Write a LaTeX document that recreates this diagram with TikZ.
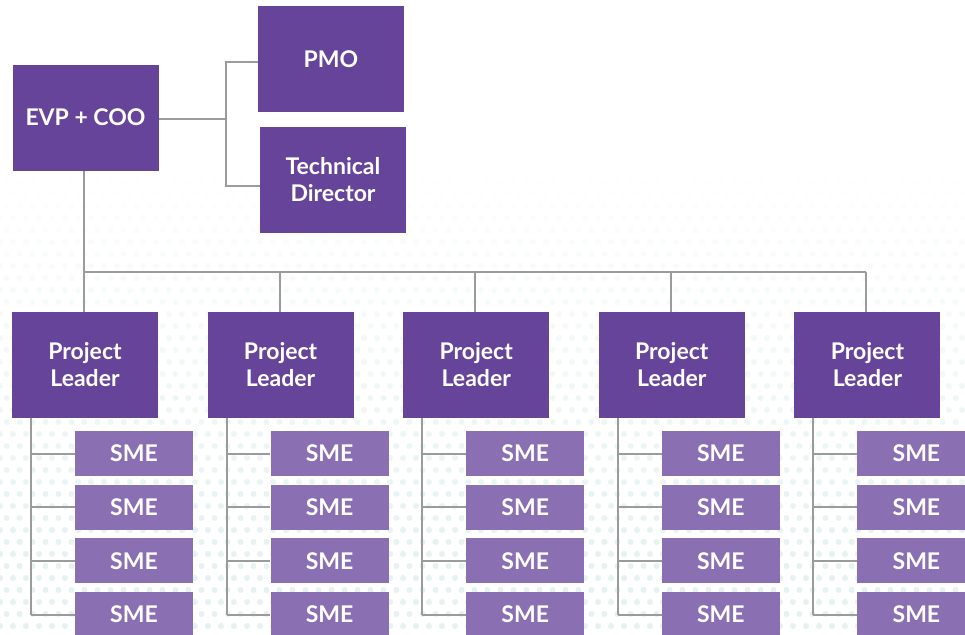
\documentclass[tikz,border=0pt]{standalone}
\usepackage{fontspec}
\setmainfont{Lato}
\usetikzlibrary{positioning}
\definecolor{plum}{HTML}{66449A}
\definecolor{lilac}{HTML}{8A70B3}
\definecolor{wiregray}{HTML}{9B9B9B}
\definecolor{dotteal}{HTML}{DCEFED}
\tikzset{
  box/.style={fill=plum, text=white, font=\fontsize{23}{27}\selectfont\bfseries,
    align=center, minimum width=146pt, minimum height=106pt, inner sep=0pt},
  smebox/.style={box, fill=lilac, minimum width=118pt, minimum height=45pt},
  wire/.style={draw=wiregray, line width=2pt}
}

\begin{document}
\begin{tikzpicture}[x=1pt, y=-1pt]
  %%%%% START %%%%%
  \useasboundingbox (0,0) rectangle (965,634);
  \fill[white] (0,0) rectangle (965,634);

  % dotted backdrop, fading out towards the top
  \foreach \r in {0,...,38}{
    \pgfmathsetmacro\dy{170+12*\r}
    \pgfmathsetmacro\op{0.75*min(1,\r/32)}
    \pgfmathsetmacro\ox{mod(\r,2)*6.5}
    \foreach \c in {0,...,74}{
      \fill[dotteal, opacity=\op] (\ox+13*\c, \dy) circle (3);
    }
  }

  % top of the chart
  \node[box] (evp) at (85.5,117.5) {EVP + COO};
  \node[box] (pmo) at (331,59) {PMO};
  \node[box] (tech) at (333,180) {Technical\\Director};

  \coordinate (split) at (226,119);
  \draw[wire] (evp.east |- split) -- (split);
  \draw[wire] ([yshift=-3pt]pmo.west) -| (split) |- ([yshift=-6pt]tech.west);

  \coordinate (bus) at (84,272);

  % project leaders and their SMEs
  \foreach \i in {1,...,5}{
    \pgfmathsetmacro\cx{85+195.6*(\i-1)}
    \node[box] (pl\i) at (\cx,365) {Project\\Leader};
    \draw[wire] ([xshift=-1pt]pl\i.north) -- ([xshift=-1pt]pl\i.north |- bus);
    \coordinate (stem\i) at ([xshift=-54pt]pl\i.south);
    \foreach \j in {1,...,4}{
      \pgfmathsetmacro\cy{453.5+53.7*(\j-1)}
      \node[smebox] (sme\i\j) at (\cx+49,\cy) {SME};
      \draw[wire] (sme\i\j.west -| stem\i) -- (sme\i\j.west);
    }
    \draw[wire] (stem\i) -- (stem\i |- sme\i4.west);
  }

  \draw[wire] (evp.south -| bus) -- (bus);
  \draw[wire] ([xshift=-1pt]pl1.north |- bus) -- ([xshift=-1pt]pl5.north |- bus);
  %%%%% END %%%%%
\end{tikzpicture}
\end{document}
